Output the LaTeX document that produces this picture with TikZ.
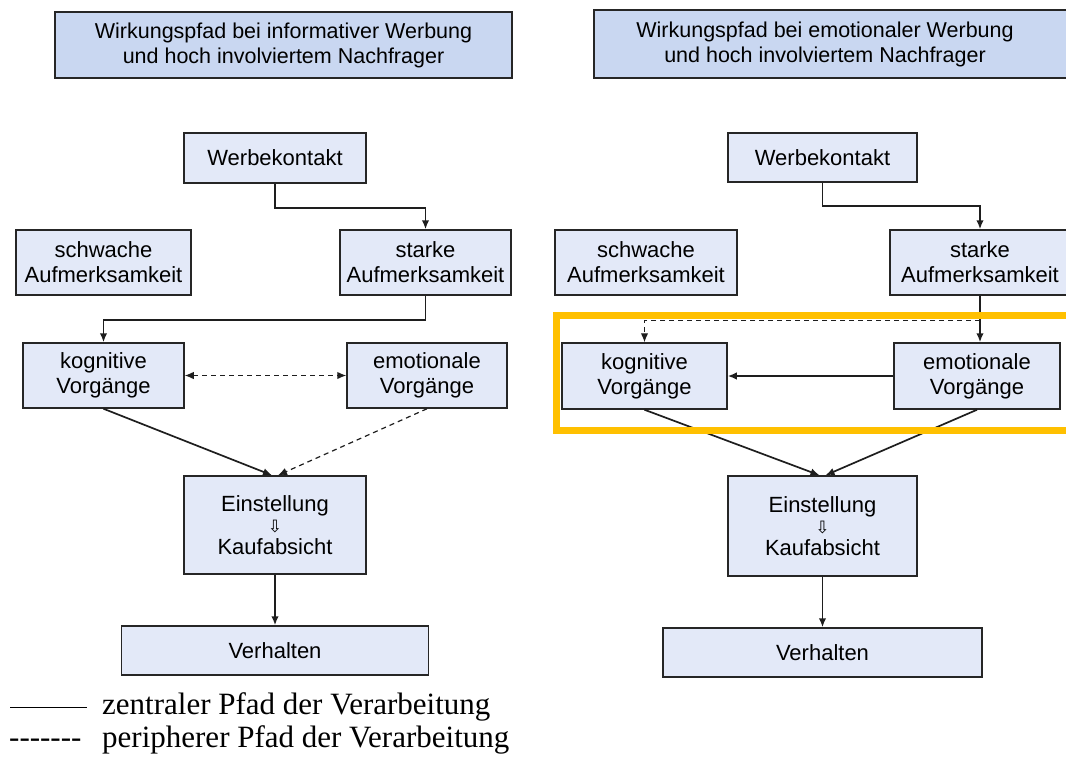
\documentclass[tikz,border=0pt]{standalone}
\usepackage{fontspec}
\setmainfont{Liberation Serif}
\setsansfont{Liberation Sans}
\newfontfamily\dejavu{DejaVu Sans}
\usetikzlibrary{arrows.meta}
\definecolor{boxfill}{HTML}{E3E9F8}
\definecolor{titlefill}{HTML}{C9D7F1}
\definecolor{boxline}{HTML}{262626}
\definecolor{connline}{HTML}{1E1E1E}
\definecolor{hilite}{HTML}{FFC000}
\begin{document}
\begin{tikzpicture}[x=1pt,y=-1pt,
  box/.style={draw=boxline, line width=1.5pt, fill=boxfill, inner sep=0pt, align=center,
    font=\sffamily\fontsize{22}{25}\selectfont},
  titlebox/.style={box, fill=titlefill, font=\sffamily\fontsize{21.5}{25}\selectfont},
  conn/.style={draw=connline, line width=1.7pt, -{Latex[length=9pt,width=7.5pt]}},
  dconn/.style={conn, line width=1.2pt, dash pattern=on 5pt off 4pt},
  legend/.style={anchor=base west, inner sep=0pt, font=\fontsize{31}{37}\selectfont}]
\useasboundingbox (0,0) rectangle (1066,758);
% ---------- left panel ----------
\node[titlebox, minimum width=457pt, minimum height=66pt] (ltitle) at (283.5,45)
  {Wirkungspfad bei informativer Werbung\\und hoch involviertem Nachfrager};
\node[box, minimum width=182pt, minimum height=50pt] (lwk) at (275,158) {Werbekontakt};
\node[box, minimum width=175pt, minimum height=65pt] (lsch) at (103.5,262.5) {schwache\\Aufmerksamkeit};
\node[box, minimum width=171pt, minimum height=65pt] (lst) at (425.5,262.5) {starke\\Aufmerksamkeit};
\node[box, minimum width=161pt, minimum height=65pt] (lkog) at (103.5,375.5) {kognitive\\Vorgänge};
\node[box, minimum width=160pt, minimum height=65pt] (lemo) at (427,375.5) {emotionale\\Vorgänge};
\node[box, minimum width=182pt, minimum height=98pt] (lein) at (275,525)
  {Einstellung\\[-4pt]{\dejavu\fontsize{17}{17}\selectfont ⇩}\\[-3pt]Kaufabsicht};
\node[box, minimum width=307pt, minimum height=49pt] (lver) at (275,650.5) {Verhalten};
\draw[conn] (lwk.south) -- ++(0,24) -| (lst.north);
\draw[conn] (lst.south) -- ++(0,24) -| (lkog.north);
\draw[dconn, {Latex[length=9pt,width=7.5pt]}-{Latex[length=9pt,width=7.5pt]}] (lkog.east) -- (lemo.west);
\draw[conn] (lkog.south) -- ([xshift=-3pt]lein.north);
\draw[dconn] (lemo.south) -- ([xshift=3pt]lein.north);
\draw[conn] (lein.south) -- (lein.south |- lver.north);
% ---------- right panel ----------
\draw[titlebox] (594,10) rectangle (1080,78);
\node[inner sep=0pt, align=center, font=\sffamily\fontsize{21.5}{25}\selectfont] (rtitle) at (825,44)
  {Wirkungspfad bei emotionaler Werbung\\und hoch involviertem Nachfrager};
\node[box, minimum width=189pt, minimum height=49pt] (rwk) at (822.5,157.5) {Werbekontakt};
\node[box, minimum width=182pt, minimum height=65pt] (rsch) at (646,262.5) {schwache\\Aufmerksamkeit};
\node[box, minimum width=180pt, minimum height=65pt] (rst) at (980,262.5) {starke\\Aufmerksamkeit};
\node[box, minimum width=165pt, minimum height=66pt] (rkog) at (644.5,376) {kognitive\\Vorgänge};
\node[box, minimum width=166pt, minimum height=66pt] (remo) at (977,376) {emotionale\\Vorgänge};
\node[box, minimum width=189pt, minimum height=100pt] (rein) at (822.5,526)
  {Einstellung\\[-4pt]{\dejavu\fontsize{17}{17}\selectfont ⇩}\\[-3pt]Kaufabsicht};
\node[box, minimum width=319pt, minimum height=49pt] (rver) at (822.5,652.5) {Verhalten};
\draw[conn] (rwk.south) -- ++(0,23) -| (rst.north);
\draw[conn] (rst.south) -- (rst.south |- remo.north);
\draw[dconn] (rst.south) ++(0,25) -| (rkog.north);
\draw[conn] (remo.west) -- (rkog.east);
\draw[conn] (rkog.south) -- ([xshift=-3pt]rein.north);
\draw[conn] (remo.south) -- ([xshift=3pt]rein.north);
\draw[conn] (rein.south) -- (rver.north);
\draw[draw=hilite, line width=7pt] (556,315.5) rectangle (1085,430);
% ---------- legend ----------
\coordinate (lga) at (10,707);
\coordinate (lgb) at (87,707);
\draw[line width=1pt] (lga) -- (lgb);
\node[legend] (lg1) at (102,714) {zentraler Pfad der Verarbeitung};
\node[legend] (lg2d) at (9,747) {-{}-{}-{}-{}-{}-{}-};
\node[legend] (lg2) at (102,747) {peripherer Pfad der Verarbeitung};
\end{tikzpicture}
\end{document}
